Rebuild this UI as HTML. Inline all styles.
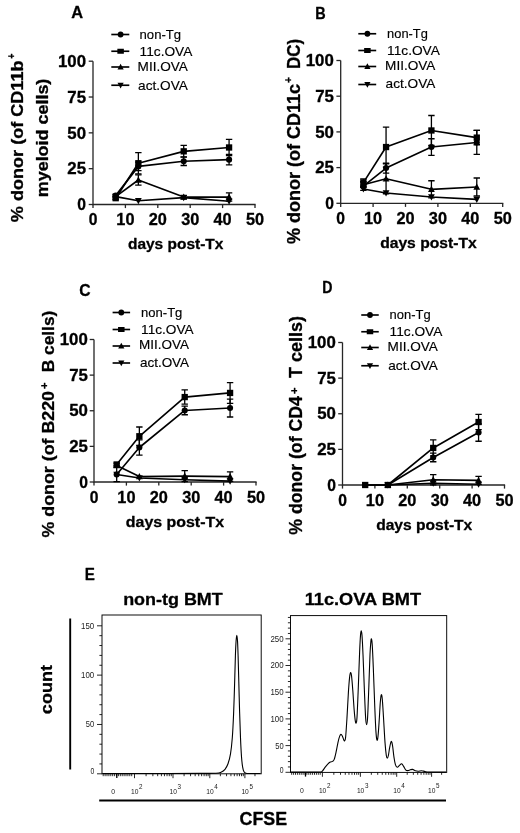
<!DOCTYPE html>
<html><head><meta charset="utf-8"><title>Figure</title>
<style>
html,body{margin:0;padding:0;background:#fff;}
body{width:520px;height:833px;overflow:hidden;}
svg{display:block;font-family:"Liberation Sans",sans-serif;filter:blur(0.3px);}
</style></head><body>
<svg width="520" height="833" viewBox="0 0 520 833">
<rect width="520" height="833" fill="#fff"/>
<g stroke="#262626" stroke-width="1.3" fill="none">
<path d="M93 61.2V204.5H255.6"/>
<path d="M88.7 204.5H93"/>
<path d="M88.7 168.68H93"/>
<path d="M88.7 132.85H93"/>
<path d="M88.7 97.02H93"/>
<path d="M88.7 61.2H93"/>
<path d="M93 204.5V208.1"/>
<path d="M125.4 204.5V208.1"/>
<path d="M157.8 204.5V208.1"/>
<path d="M190.2 204.5V208.1"/>
<path d="M222.6 204.5V208.1"/>
<path d="M255 204.5V208.1"/>
</g>
<text transform="translate(57.95,66.9) scale(1.0650,1)" font-size="15.8" font-weight="bold" fill="#000" stroke="#000" stroke-width="0.3" stroke-linejoin="round">100</text>
<text transform="translate(67.35,102.72) scale(1.0663,1)" font-size="15.8" font-weight="bold" fill="#000" stroke="#000" stroke-width="0.3" stroke-linejoin="round">75</text>
<text transform="translate(67.35,138.55) scale(1.0663,1)" font-size="15.8" font-weight="bold" fill="#000" stroke="#000" stroke-width="0.3" stroke-linejoin="round">50</text>
<text transform="translate(67.35,174.38) scale(1.0663,1)" font-size="15.8" font-weight="bold" fill="#000" stroke="#000" stroke-width="0.3" stroke-linejoin="round">25</text>
<text transform="translate(77.35,210.2) scale(0.9921,1)" font-size="15.8" font-weight="bold" fill="#000" stroke="#000" stroke-width="0.3" stroke-linejoin="round">0</text>
<text transform="translate(88.65,225.1) scale(0.9921,1)" font-size="15.8" font-weight="bold" fill="#000" stroke="#000" stroke-width="0.3" stroke-linejoin="round">0</text>
<text transform="translate(116.35,225.1) scale(1.0320,1)" font-size="15.8" font-weight="bold" fill="#000" stroke="#000" stroke-width="0.3" stroke-linejoin="round">10</text>
<text transform="translate(148.75,225.1) scale(1.0320,1)" font-size="15.8" font-weight="bold" fill="#000" stroke="#000" stroke-width="0.3" stroke-linejoin="round">20</text>
<text transform="translate(181.15,225.1) scale(1.0320,1)" font-size="15.8" font-weight="bold" fill="#000" stroke="#000" stroke-width="0.3" stroke-linejoin="round">30</text>
<text transform="translate(213.55,225.1) scale(1.0320,1)" font-size="15.8" font-weight="bold" fill="#000" stroke="#000" stroke-width="0.3" stroke-linejoin="round">40</text>
<text transform="translate(245.95,225.1) scale(1.0320,1)" font-size="15.8" font-weight="bold" fill="#000" stroke="#000" stroke-width="0.3" stroke-linejoin="round">50</text>
<text transform="translate(127.95,249.3) scale(1.0116,1)" font-size="15.3" font-weight="bold" fill="#000" stroke="#000" stroke-width="0.3" stroke-linejoin="round">days post-Tx</text>
<text transform="translate(71.15,17.5) scale(0.9641,1)" font-size="17" font-weight="bold" fill="#000" stroke="#000" stroke-width="0.3" stroke-linejoin="round">A</text>
<text xml:space="preserve" stroke="#000" stroke-width="0.3" stroke-linejoin="round" transform="translate(23.1,222.15) rotate(-90) scale(1.1595,1)" font-size="15.6" font-weight="bold">% donor (of CD11b</text>
<text xml:space="preserve" stroke="#000" stroke-width="0.3" stroke-linejoin="round" transform="translate(14.8,58.75) rotate(-90) scale(0.8889,1)" font-size="10" font-weight="bold">+</text>
<text xml:space="preserve" stroke="#000" stroke-width="0.3" stroke-linejoin="round" transform="translate(48.4,197.25) rotate(-90) scale(1.1503,1)" font-size="15.6" font-weight="bold">myeloid cells)</text>
<path d="M111.3 34.5H129.3" stroke="#000" stroke-width="1.65"/>
<circle cx="120.6" cy="34.5" r="2.9"/>
<text transform="translate(139.57,38.75) scale(1.0415,1)" font-size="12.6" font-weight="normal" fill="#000" stroke="#000" stroke-width="0.15" stroke-linejoin="round">non-Tg</text>
<path d="M111.3 51.25H129.3" stroke="#000" stroke-width="1.65"/>
<rect x="117.35" y="48.75" width="6.5" height="5"/>
<text transform="translate(139.57,55.5) scale(1.0881,1)" font-size="12.6" font-weight="normal" fill="#000" stroke="#000" stroke-width="0.15" stroke-linejoin="round">11c.OVA</text>
<path d="M111.3 67H129.3" stroke="#000" stroke-width="1.65"/>
<path d="M120.6 63.74L123.7 69.48L117.5 69.48Z"/>
<text transform="translate(137.57,71.25) scale(1.0786,1)" font-size="12.6" font-weight="normal" fill="#000" stroke="#000" stroke-width="0.15" stroke-linejoin="round">MII.OVA</text>
<path d="M111.3 85.25H129.3" stroke="#000" stroke-width="1.65"/>
<path d="M120.6 88.5L123.7 82.77L117.5 82.77Z"/>
<text transform="translate(138.07,89.5) scale(1.0839,1)" font-size="12.6" font-weight="normal" fill="#000" stroke="#000" stroke-width="0.15" stroke-linejoin="round">act.OVA</text>
<path d="M115.68 196.62L138.36 200.77L183.72 197.62L229.08 201.2" fill="none" stroke="#000" stroke-width="1.65" stroke-linejoin="round"/>
<path d="M115.68 200.19L119.08 193.9L112.28 193.9Z"/>
<path d="M138.36 204.34L141.76 198.05L134.96 198.05Z"/>
<path d="M183.72 201.19L187.12 194.9L180.32 194.9Z"/>
<path d="M229.08 204.77L232.48 198.48L225.68 198.48Z"/>
<path d="M115.68 196.62L138.36 180L183.72 197.05L229.08 197.05" fill="none" stroke="#000" stroke-width="1.65" stroke-linejoin="round"/>
<path d="M115.68 193.05L119.08 199.34L112.28 199.34Z"/>
<path d="M138.36 174.84V185.15M135.16 174.84H141.56M135.16 185.15H141.56" fill="none" stroke="#000" stroke-width="1.3"/>
<path d="M138.36 176.43L141.76 182.72L134.96 182.72Z"/>
<path d="M183.72 195.33V198.77M180.52 195.33H186.92M180.52 198.77H186.92" fill="none" stroke="#000" stroke-width="1.3"/>
<path d="M183.72 193.48L187.12 199.77L180.32 199.77Z"/>
<path d="M229.08 192.89V201.2M225.88 192.89H232.28M225.88 201.2H232.28" fill="none" stroke="#000" stroke-width="1.3"/>
<path d="M229.08 193.48L232.48 199.77L225.68 199.77Z"/>
<path d="M115.68 195.62L138.36 166.38L183.72 161.22L229.08 159.65" fill="none" stroke="#000" stroke-width="1.65" stroke-linejoin="round"/>
<path d="M115.68 194.18V197.05M112.48 194.18H118.88M112.48 197.05H118.88" fill="none" stroke="#000" stroke-width="1.3"/>
<circle cx="115.68" cy="195.62" r="3.05"/>
<path d="M138.36 162.08V170.68M135.16 162.08H141.56M135.16 170.68H141.56" fill="none" stroke="#000" stroke-width="1.3"/>
<circle cx="138.36" cy="166.38" r="3.05"/>
<path d="M183.72 156.92V165.52M180.52 156.92H186.92M180.52 165.52H186.92" fill="none" stroke="#000" stroke-width="1.3"/>
<circle cx="183.72" cy="161.22" r="3.05"/>
<path d="M229.08 154.34V164.95M225.88 154.34H232.28M225.88 164.95H232.28" fill="none" stroke="#000" stroke-width="1.3"/>
<circle cx="229.08" cy="159.65" r="3.05"/>
<path d="M115.68 198.19L138.36 163.23L183.72 151.34L229.08 147.47" fill="none" stroke="#000" stroke-width="1.65" stroke-linejoin="round"/>
<path d="M115.68 196.76V199.63M112.48 196.76H118.88M112.48 199.63H118.88" fill="none" stroke="#000" stroke-width="1.3"/>
<rect x="112.53" y="195.04" width="6.3" height="6.3"/>
<path d="M138.36 152.63V173.83M135.16 152.63H141.56M135.16 173.83H141.56" fill="none" stroke="#000" stroke-width="1.3"/>
<rect x="135.21" y="160.08" width="6.3" height="6.3"/>
<path d="M183.72 145.46V157.21M180.52 145.46H186.92M180.52 157.21H186.92" fill="none" stroke="#000" stroke-width="1.3"/>
<rect x="180.57" y="148.19" width="6.3" height="6.3"/>
<path d="M229.08 139.44V155.49M225.88 139.44H232.28M225.88 155.49H232.28" fill="none" stroke="#000" stroke-width="1.3"/>
<rect x="225.93" y="144.32" width="6.3" height="6.3"/>
<g stroke="#262626" stroke-width="1.3" fill="none">
<path d="M340.7 60.5V203.3H503.3"/>
<path d="M336.4 203.3H340.7"/>
<path d="M336.4 167.6H340.7"/>
<path d="M336.4 131.9H340.7"/>
<path d="M336.4 96.2H340.7"/>
<path d="M336.4 60.5H340.7"/>
<path d="M340.7 203.3V206.9"/>
<path d="M373.1 203.3V206.9"/>
<path d="M405.5 203.3V206.9"/>
<path d="M437.9 203.3V206.9"/>
<path d="M470.3 203.3V206.9"/>
<path d="M502.7 203.3V206.9"/>
</g>
<text transform="translate(305.75,66.2) scale(1.0650,1)" font-size="15.8" font-weight="bold" fill="#000" stroke="#000" stroke-width="0.3" stroke-linejoin="round">100</text>
<text transform="translate(315.15,101.9) scale(1.0663,1)" font-size="15.8" font-weight="bold" fill="#000" stroke="#000" stroke-width="0.3" stroke-linejoin="round">75</text>
<text transform="translate(315.15,137.6) scale(1.0663,1)" font-size="15.8" font-weight="bold" fill="#000" stroke="#000" stroke-width="0.3" stroke-linejoin="round">50</text>
<text transform="translate(315.15,173.3) scale(1.0663,1)" font-size="15.8" font-weight="bold" fill="#000" stroke="#000" stroke-width="0.3" stroke-linejoin="round">25</text>
<text transform="translate(325.15,209) scale(0.9921,1)" font-size="15.8" font-weight="bold" fill="#000" stroke="#000" stroke-width="0.3" stroke-linejoin="round">0</text>
<text transform="translate(336.35,223.9) scale(0.9921,1)" font-size="15.8" font-weight="bold" fill="#000" stroke="#000" stroke-width="0.3" stroke-linejoin="round">0</text>
<text transform="translate(364.05,223.9) scale(1.0320,1)" font-size="15.8" font-weight="bold" fill="#000" stroke="#000" stroke-width="0.3" stroke-linejoin="round">10</text>
<text transform="translate(396.45,223.9) scale(1.0320,1)" font-size="15.8" font-weight="bold" fill="#000" stroke="#000" stroke-width="0.3" stroke-linejoin="round">20</text>
<text transform="translate(428.85,223.9) scale(1.0320,1)" font-size="15.8" font-weight="bold" fill="#000" stroke="#000" stroke-width="0.3" stroke-linejoin="round">30</text>
<text transform="translate(461.25,223.9) scale(1.0320,1)" font-size="15.8" font-weight="bold" fill="#000" stroke="#000" stroke-width="0.3" stroke-linejoin="round">40</text>
<text transform="translate(493.65,223.9) scale(1.0320,1)" font-size="15.8" font-weight="bold" fill="#000" stroke="#000" stroke-width="0.3" stroke-linejoin="round">50</text>
<text transform="translate(380.15,248.2) scale(1.0244,1)" font-size="15.3" font-weight="bold" fill="#000" stroke="#000" stroke-width="0.3" stroke-linejoin="round">days post-Tx</text>
<text transform="translate(315.25,18.5) scale(0.8497,1)" font-size="17" font-weight="bold" fill="#000" stroke="#000" stroke-width="0.3" stroke-linejoin="round">B</text>
<text xml:space="preserve" stroke="#000" stroke-width="0.3" stroke-linejoin="round" transform="translate(300.3,243.95) rotate(-90) scale(1.0284,1)" font-size="17.5" font-weight="bold">% donor (of CD11c</text>
<text xml:space="preserve" stroke="#000" stroke-width="0.3" stroke-linejoin="round" transform="translate(291.5,83.05) rotate(-90) scale(0.9768,1)" font-size="10.5" font-weight="bold">+</text>
<text xml:space="preserve" stroke="#000" stroke-width="0.3" stroke-linejoin="round" transform="translate(300.3,69.05) rotate(-90) scale(0.9690,1)" font-size="17.5" font-weight="bold">DC)</text>
<path d="M358.3 33.75H376.2" stroke="#000" stroke-width="1.65"/>
<circle cx="367.4" cy="33.75" r="2.9"/>
<text transform="translate(387.07,38) scale(1.0227,1)" font-size="12.6" font-weight="normal" fill="#000" stroke="#000" stroke-width="0.15" stroke-linejoin="round">non-Tg</text>
<path d="M358.3 50.5H376.2" stroke="#000" stroke-width="1.65"/>
<rect x="364.15" y="48" width="6.5" height="5"/>
<text transform="translate(387.07,54.5) scale(1.0881,1)" font-size="12.6" font-weight="normal" fill="#000" stroke="#000" stroke-width="0.15" stroke-linejoin="round">11c.OVA</text>
<path d="M358.3 66.5H376.2" stroke="#000" stroke-width="1.65"/>
<path d="M367.4 63.24L370.5 68.98L364.3 68.98Z"/>
<text transform="translate(385.07,70) scale(1.0786,1)" font-size="12.6" font-weight="normal" fill="#000" stroke="#000" stroke-width="0.15" stroke-linejoin="round">MII.OVA</text>
<path d="M358.3 84.5H376.2" stroke="#000" stroke-width="1.65"/>
<path d="M367.4 87.75L370.5 82.02L364.3 82.02Z"/>
<text transform="translate(385.57,88.25) scale(1.0839,1)" font-size="12.6" font-weight="normal" fill="#000" stroke="#000" stroke-width="0.15" stroke-linejoin="round">act.OVA</text>
<path d="M363.38 189.02L386.06 193.02L431.42 197.02L476.78 199.44" fill="none" stroke="#000" stroke-width="1.65" stroke-linejoin="round"/>
<path d="M363.38 192.59L366.78 186.3L359.98 186.3Z"/>
<path d="M386.06 196.59L389.46 190.3L382.66 190.3Z"/>
<path d="M431.42 200.59L434.82 194.3L428.02 194.3Z"/>
<path d="M476.78 203.01L480.18 196.72L473.38 196.72Z"/>
<path d="M363.38 184.74L386.06 178.74L431.42 189.31L476.78 187.02" fill="none" stroke="#000" stroke-width="1.65" stroke-linejoin="round"/>
<path d="M363.38 181.88V187.59M360.18 181.88H366.58M360.18 187.59H366.58" fill="none" stroke="#000" stroke-width="1.3"/>
<path d="M363.38 181.17L366.78 187.46L359.98 187.46Z"/>
<path d="M386.06 163.74V193.73M382.86 163.74H389.26M382.86 193.73H389.26" fill="none" stroke="#000" stroke-width="1.3"/>
<path d="M386.06 175.17L389.46 181.46L382.66 181.46Z"/>
<path d="M431.42 180.74V197.87M428.22 180.74H434.62M428.22 197.87H434.62" fill="none" stroke="#000" stroke-width="1.3"/>
<path d="M431.42 185.74L434.82 192.03L428.02 192.03Z"/>
<path d="M476.78 178.02V196.02M473.58 178.02H479.98M473.58 196.02H479.98" fill="none" stroke="#000" stroke-width="1.3"/>
<path d="M476.78 183.45L480.18 189.74L473.38 189.74Z"/>
<path d="M363.38 186.16L386.06 168.03L431.42 147.04L476.78 142.47" fill="none" stroke="#000" stroke-width="1.65" stroke-linejoin="round"/>
<path d="M363.38 181.88V190.45M360.18 181.88H366.58M360.18 190.45H366.58" fill="none" stroke="#000" stroke-width="1.3"/>
<circle cx="363.38" cy="186.16" r="3.05"/>
<path d="M386.06 163.03V173.03M382.86 163.03H389.26M382.86 173.03H389.26" fill="none" stroke="#000" stroke-width="1.3"/>
<circle cx="386.06" cy="168.03" r="3.05"/>
<path d="M431.42 138.75V155.32M428.22 138.75H434.62M428.22 155.32H434.62" fill="none" stroke="#000" stroke-width="1.3"/>
<circle cx="431.42" cy="147.04" r="3.05"/>
<path d="M476.78 130.47V154.46M473.58 130.47H479.98M473.58 154.46H479.98" fill="none" stroke="#000" stroke-width="1.3"/>
<circle cx="476.78" cy="142.47" r="3.05"/>
<path d="M363.38 182.59L386.06 147.04L431.42 130.47L476.78 137.61" fill="none" stroke="#000" stroke-width="1.65" stroke-linejoin="round"/>
<path d="M363.38 179.02V186.16M360.18 179.02H366.58M360.18 186.16H366.58" fill="none" stroke="#000" stroke-width="1.3"/>
<rect x="360.23" y="179.44" width="6.3" height="6.3"/>
<path d="M386.06 127.04V167.03M382.86 127.04H389.26M382.86 167.03H389.26" fill="none" stroke="#000" stroke-width="1.3"/>
<rect x="382.91" y="143.89" width="6.3" height="6.3"/>
<path d="M431.42 115.48V145.47M428.22 115.48H434.62M428.22 145.47H434.62" fill="none" stroke="#000" stroke-width="1.3"/>
<rect x="428.27" y="127.32" width="6.3" height="6.3"/>
<path d="M476.78 130.47V144.75M473.58 130.47H479.98M473.58 144.75H479.98" fill="none" stroke="#000" stroke-width="1.3"/>
<rect x="473.63" y="134.46" width="6.3" height="6.3"/>
<g stroke="#262626" stroke-width="1.3" fill="none">
<path d="M94 339.5V482H256.6"/>
<path d="M89.7 482H94"/>
<path d="M89.7 446.38H94"/>
<path d="M89.7 410.75H94"/>
<path d="M89.7 375.12H94"/>
<path d="M89.7 339.5H94"/>
<path d="M94 482V485.6"/>
<path d="M126.4 482V485.6"/>
<path d="M158.8 482V485.6"/>
<path d="M191.2 482V485.6"/>
<path d="M223.6 482V485.6"/>
<path d="M256 482V485.6"/>
</g>
<text transform="translate(59.75,345.2) scale(1.0650,1)" font-size="15.8" font-weight="bold" fill="#000" stroke="#000" stroke-width="0.3" stroke-linejoin="round">100</text>
<text transform="translate(69.15,380.82) scale(1.0663,1)" font-size="15.8" font-weight="bold" fill="#000" stroke="#000" stroke-width="0.3" stroke-linejoin="round">75</text>
<text transform="translate(69.15,416.45) scale(1.0663,1)" font-size="15.8" font-weight="bold" fill="#000" stroke="#000" stroke-width="0.3" stroke-linejoin="round">50</text>
<text transform="translate(69.15,452.07) scale(1.0663,1)" font-size="15.8" font-weight="bold" fill="#000" stroke="#000" stroke-width="0.3" stroke-linejoin="round">25</text>
<text transform="translate(79.15,487.7) scale(0.9921,1)" font-size="15.8" font-weight="bold" fill="#000" stroke="#000" stroke-width="0.3" stroke-linejoin="round">0</text>
<text transform="translate(89.65,502.6) scale(0.9921,1)" font-size="15.8" font-weight="bold" fill="#000" stroke="#000" stroke-width="0.3" stroke-linejoin="round">0</text>
<text transform="translate(117.35,502.6) scale(1.0320,1)" font-size="15.8" font-weight="bold" fill="#000" stroke="#000" stroke-width="0.3" stroke-linejoin="round">10</text>
<text transform="translate(149.75,502.6) scale(1.0320,1)" font-size="15.8" font-weight="bold" fill="#000" stroke="#000" stroke-width="0.3" stroke-linejoin="round">20</text>
<text transform="translate(182.15,502.6) scale(1.0320,1)" font-size="15.8" font-weight="bold" fill="#000" stroke="#000" stroke-width="0.3" stroke-linejoin="round">30</text>
<text transform="translate(214.55,502.6) scale(1.0320,1)" font-size="15.8" font-weight="bold" fill="#000" stroke="#000" stroke-width="0.3" stroke-linejoin="round">40</text>
<text transform="translate(246.95,502.6) scale(1.0320,1)" font-size="15.8" font-weight="bold" fill="#000" stroke="#000" stroke-width="0.3" stroke-linejoin="round">50</text>
<text transform="translate(125.85,526.6) scale(1.0413,1)" font-size="15.3" font-weight="bold" fill="#000" stroke="#000" stroke-width="0.3" stroke-linejoin="round">days post-Tx</text>
<text transform="translate(79.25,295.6) scale(0.9232,1)" font-size="17" font-weight="bold" fill="#000" stroke="#000" stroke-width="0.3" stroke-linejoin="round">C</text>
<text xml:space="preserve" stroke="#000" stroke-width="0.3" stroke-linejoin="round" transform="translate(54.3,537.45) rotate(-90) scale(1.0539,1)" font-size="16.9" font-weight="bold">% donor (of B220</text>
<text xml:space="preserve" stroke="#000" stroke-width="0.3" stroke-linejoin="round" transform="translate(48.1,389.05) rotate(-90) scale(1.0745,1)" font-size="10.5" font-weight="bold">+</text>
<text xml:space="preserve" stroke="#000" stroke-width="0.3" stroke-linejoin="round" transform="translate(54.3,372.15) rotate(-90) scale(1.0220,1)" font-size="16.9" font-weight="bold">B cells)</text>
<path d="M112.6 312.5H130.1" stroke="#000" stroke-width="1.65"/>
<circle cx="121.3" cy="312.5" r="2.9"/>
<text transform="translate(141.07,316.8) scale(1.0353,1)" font-size="12.6" font-weight="normal" fill="#000" stroke="#000" stroke-width="0.15" stroke-linejoin="round">non-Tg</text>
<path d="M112.6 329.5H130.1" stroke="#000" stroke-width="1.65"/>
<rect x="118.05" y="327" width="6.5" height="5"/>
<text transform="translate(141.07,333.5) scale(1.0829,1)" font-size="12.6" font-weight="normal" fill="#000" stroke="#000" stroke-width="0.15" stroke-linejoin="round">11c.OVA</text>
<path d="M112.6 346H130.1" stroke="#000" stroke-width="1.65"/>
<path d="M121.3 342.75L124.4 348.48L118.2 348.48Z"/>
<text transform="translate(139.07,349.3) scale(1.0732,1)" font-size="12.6" font-weight="normal" fill="#000" stroke="#000" stroke-width="0.15" stroke-linejoin="round">MII.OVA</text>
<path d="M112.6 363H130.1" stroke="#000" stroke-width="1.65"/>
<path d="M121.3 366.25L124.4 360.52L118.2 360.52Z"/>
<text transform="translate(139.88,367.3) scale(1.0720,1)" font-size="12.6" font-weight="normal" fill="#000" stroke="#000" stroke-width="0.15" stroke-linejoin="round">act.OVA</text>
<path d="M116.68 474.45L139.36 478.01L184.72 479.72L230.08 481.14" fill="none" stroke="#000" stroke-width="1.65" stroke-linejoin="round"/>
<path d="M116.68 478.02L120.08 471.73L113.28 471.73Z"/>
<path d="M139.36 481.58L142.76 475.29L135.96 475.29Z"/>
<path d="M184.72 483.29L188.12 477L181.32 477Z"/>
<path d="M230.08 484.71L233.48 478.42L226.68 478.42Z"/>
<path d="M116.68 465.61L139.36 476.58L184.72 476.16L230.08 476.58" fill="none" stroke="#000" stroke-width="1.65" stroke-linejoin="round"/>
<path d="M116.68 462.04L120.08 468.33L113.28 468.33Z"/>
<path d="M139.36 473.01L142.76 479.31L135.96 479.31Z"/>
<path d="M184.72 470.6V481.71M181.52 470.6H187.92M181.52 481.71H187.92" fill="none" stroke="#000" stroke-width="1.3"/>
<path d="M184.72 472.59L188.12 478.88L181.32 478.88Z"/>
<path d="M230.08 471.88V481.29M226.88 471.88H233.28M226.88 481.29H233.28" fill="none" stroke="#000" stroke-width="1.3"/>
<path d="M230.08 473.01L233.48 479.31L226.68 479.31Z"/>
<path d="M116.68 474.45L139.36 447.51L184.72 410.46L230.08 408.04" fill="none" stroke="#000" stroke-width="1.65" stroke-linejoin="round"/>
<path d="M116.68 467.32V481.57M113.48 467.32H119.88M113.48 481.57H119.88" fill="none" stroke="#000" stroke-width="1.3"/>
<circle cx="116.68" cy="474.45" r="3.05"/>
<path d="M139.36 439.96V455.07M136.16 439.96H142.56M136.16 455.07H142.56" fill="none" stroke="#000" stroke-width="1.3"/>
<circle cx="139.36" cy="447.51" r="3.05"/>
<path d="M184.72 406.19V414.74M181.52 406.19H187.92M181.52 414.74H187.92" fill="none" stroke="#000" stroke-width="1.3"/>
<circle cx="184.72" cy="410.46" r="3.05"/>
<path d="M230.08 399.06V417.02M226.88 399.06H233.28M226.88 417.02H233.28" fill="none" stroke="#000" stroke-width="1.3"/>
<circle cx="230.08" cy="408.04" r="3.05"/>
<path d="M116.68 464.47L139.36 436.26L184.72 397.07L230.08 392.94" fill="none" stroke="#000" stroke-width="1.65" stroke-linejoin="round"/>
<path d="M116.68 463.05V465.9M113.48 463.05H119.88M113.48 465.9H119.88" fill="none" stroke="#000" stroke-width="1.3"/>
<rect x="113.53" y="461.32" width="6.3" height="6.3"/>
<path d="M139.36 427V445.52M136.16 427H142.56M136.16 445.52H142.56" fill="none" stroke="#000" stroke-width="1.3"/>
<rect x="136.21" y="433.11" width="6.3" height="6.3"/>
<path d="M184.72 389.94V404.19M181.52 389.94H187.92M181.52 404.19H187.92" fill="none" stroke="#000" stroke-width="1.3"/>
<rect x="181.57" y="393.92" width="6.3" height="6.3"/>
<path d="M230.08 382.53V403.34M226.88 382.53H233.28M226.88 403.34H233.28" fill="none" stroke="#000" stroke-width="1.3"/>
<rect x="226.93" y="389.79" width="6.3" height="6.3"/>
<g stroke="#262626" stroke-width="1.3" fill="none">
<path d="M342.5 342.5V485H505.1"/>
<path d="M338.2 485H342.5"/>
<path d="M338.2 449.38H342.5"/>
<path d="M338.2 413.75H342.5"/>
<path d="M338.2 378.12H342.5"/>
<path d="M338.2 342.5H342.5"/>
<path d="M342.5 485V488.6"/>
<path d="M374.9 485V488.6"/>
<path d="M407.3 485V488.6"/>
<path d="M439.7 485V488.6"/>
<path d="M472.1 485V488.6"/>
<path d="M504.5 485V488.6"/>
</g>
<text transform="translate(307.75,348.2) scale(1.0650,1)" font-size="15.8" font-weight="bold" fill="#000" stroke="#000" stroke-width="0.3" stroke-linejoin="round">100</text>
<text transform="translate(317.15,383.82) scale(1.0663,1)" font-size="15.8" font-weight="bold" fill="#000" stroke="#000" stroke-width="0.3" stroke-linejoin="round">75</text>
<text transform="translate(317.15,419.45) scale(1.0663,1)" font-size="15.8" font-weight="bold" fill="#000" stroke="#000" stroke-width="0.3" stroke-linejoin="round">50</text>
<text transform="translate(317.15,455.07) scale(1.0663,1)" font-size="15.8" font-weight="bold" fill="#000" stroke="#000" stroke-width="0.3" stroke-linejoin="round">25</text>
<text transform="translate(327.15,490.7) scale(0.9921,1)" font-size="15.8" font-weight="bold" fill="#000" stroke="#000" stroke-width="0.3" stroke-linejoin="round">0</text>
<text transform="translate(338.15,505.6) scale(0.9921,1)" font-size="15.8" font-weight="bold" fill="#000" stroke="#000" stroke-width="0.3" stroke-linejoin="round">0</text>
<text transform="translate(365.85,505.6) scale(1.0320,1)" font-size="15.8" font-weight="bold" fill="#000" stroke="#000" stroke-width="0.3" stroke-linejoin="round">10</text>
<text transform="translate(398.25,505.6) scale(1.0320,1)" font-size="15.8" font-weight="bold" fill="#000" stroke="#000" stroke-width="0.3" stroke-linejoin="round">20</text>
<text transform="translate(430.65,505.6) scale(1.0320,1)" font-size="15.8" font-weight="bold" fill="#000" stroke="#000" stroke-width="0.3" stroke-linejoin="round">30</text>
<text transform="translate(463.05,505.6) scale(1.0320,1)" font-size="15.8" font-weight="bold" fill="#000" stroke="#000" stroke-width="0.3" stroke-linejoin="round">40</text>
<text transform="translate(495.45,505.6) scale(1.0320,1)" font-size="15.8" font-weight="bold" fill="#000" stroke="#000" stroke-width="0.3" stroke-linejoin="round">50</text>
<text transform="translate(376.15,529.5) scale(1.0191,1)" font-size="15.3" font-weight="bold" fill="#000" stroke="#000" stroke-width="0.3" stroke-linejoin="round">days post-Tx</text>
<text transform="translate(322.35,293.2) scale(0.8333,1)" font-size="17" font-weight="bold" fill="#000" stroke="#000" stroke-width="0.3" stroke-linejoin="round">D</text>
<text xml:space="preserve" stroke="#000" stroke-width="0.3" stroke-linejoin="round" transform="translate(302.3,534.75) rotate(-90) scale(1.0123,1)" font-size="17.5" font-weight="bold">% donor (of CD4</text>
<text xml:space="preserve" stroke="#000" stroke-width="0.3" stroke-linejoin="round" transform="translate(297.7,394.05) rotate(-90) scale(1.0745,1)" font-size="10.5" font-weight="bold">+</text>
<text xml:space="preserve" stroke="#000" stroke-width="0.3" stroke-linejoin="round" transform="translate(302.3,377.95) rotate(-90) scale(1.0301,1)" font-size="17.5" font-weight="bold">T cells)</text>
<path d="M361.25 315H378.75" stroke="#000" stroke-width="1.65"/>
<circle cx="370" cy="315" r="2.9"/>
<text transform="translate(389.57,319.25) scale(1.0290,1)" font-size="12.6" font-weight="normal" fill="#000" stroke="#000" stroke-width="0.15" stroke-linejoin="round">non-Tg</text>
<path d="M361.25 331.75H378.75" stroke="#000" stroke-width="1.65"/>
<rect x="366.75" y="329.25" width="6.5" height="5"/>
<text transform="translate(389.57,335.5) scale(1.0881,1)" font-size="12.6" font-weight="normal" fill="#000" stroke="#000" stroke-width="0.15" stroke-linejoin="round">11c.OVA</text>
<path d="M361.25 347.5H378.75" stroke="#000" stroke-width="1.65"/>
<path d="M370 344.25L373.1 349.98L366.9 349.98Z"/>
<text transform="translate(387.57,351.25) scale(1.0786,1)" font-size="12.6" font-weight="normal" fill="#000" stroke="#000" stroke-width="0.15" stroke-linejoin="round">MII.OVA</text>
<path d="M361.25 365.75H378.75" stroke="#000" stroke-width="1.65"/>
<path d="M370 369L373.1 363.27L366.9 363.27Z"/>
<text transform="translate(388.32,369.5) scale(1.0785,1)" font-size="12.6" font-weight="normal" fill="#000" stroke="#000" stroke-width="0.15" stroke-linejoin="round">act.OVA</text>
<path d="M387.86 485L433.22 483.29L478.58 484.29" fill="none" stroke="#000" stroke-width="1.65" stroke-linejoin="round"/>
<path d="M387.86 488.57L391.26 482.28L384.46 482.28Z"/>
<path d="M433.22 486.86L436.62 480.57L429.82 480.57Z"/>
<path d="M478.58 487.86L481.98 481.57L475.18 481.57Z"/>
<path d="M387.86 485L433.22 479.73L478.58 480.44" fill="none" stroke="#000" stroke-width="1.65" stroke-linejoin="round"/>
<path d="M387.86 481.43L391.26 487.72L384.46 487.72Z"/>
<path d="M433.22 474.6V484.86M430.02 474.6H436.42M430.02 484.86H436.42" fill="none" stroke="#000" stroke-width="1.3"/>
<path d="M433.22 476.16L436.62 482.45L429.82 482.45Z"/>
<path d="M478.58 476.45V484.43M475.38 476.45H481.78M475.38 484.43H481.78" fill="none" stroke="#000" stroke-width="1.3"/>
<path d="M478.58 476.87L481.98 483.16L475.18 483.16Z"/>
<path d="M365.18 485L387.86 485L433.22 457.5L478.58 432.56" fill="none" stroke="#000" stroke-width="1.65" stroke-linejoin="round"/>
<circle cx="365.18" cy="485" r="3.05"/>
<circle cx="387.86" cy="485" r="3.05"/>
<path d="M433.22 453.22V461.77M430.02 453.22H436.42M430.02 461.77H436.42" fill="none" stroke="#000" stroke-width="1.3"/>
<circle cx="433.22" cy="457.5" r="3.05"/>
<path d="M478.58 423.87V441.25M475.38 423.87H481.78M475.38 441.25H481.78" fill="none" stroke="#000" stroke-width="1.3"/>
<circle cx="478.58" cy="432.56" r="3.05"/>
<path d="M365.18 485L387.86 485L433.22 447.95L478.58 422.01" fill="none" stroke="#000" stroke-width="1.65" stroke-linejoin="round"/>
<rect x="362.03" y="481.85" width="6.3" height="6.3"/>
<rect x="384.71" y="481.85" width="6.3" height="6.3"/>
<path d="M433.22 439.97V455.93M430.02 439.97H436.42M430.02 455.93H436.42" fill="none" stroke="#000" stroke-width="1.3"/>
<rect x="430.07" y="444.8" width="6.3" height="6.3"/>
<path d="M478.58 414.46V429.57M475.38 414.46H481.78M475.38 429.57H481.78" fill="none" stroke="#000" stroke-width="1.3"/>
<rect x="475.43" y="418.87" width="6.3" height="6.3"/>
<text transform="translate(84.75,580.2) scale(0.8934,1)" font-size="17" font-weight="bold" fill="#000" stroke="#000" stroke-width="0.3" stroke-linejoin="round">E</text>
<text transform="translate(123.15,604.8) scale(1.0435,1)" font-size="17.2" font-weight="bold" fill="#000" stroke="#000" stroke-width="0.3" stroke-linejoin="round">non-tg BMT</text>
<text transform="translate(304.65,604.8) scale(1.0600,1)" font-size="17.2" font-weight="bold" fill="#000" stroke="#000" stroke-width="0.3" stroke-linejoin="round">11c.OVA BMT</text>
<text transform="translate(239.55,824.6) scale(1.0148,1)" font-size="17.6" font-weight="bold" fill="#000" stroke="#000" stroke-width="0.3" stroke-linejoin="round">CFSE</text>
<text xml:space="preserve" stroke="#000" stroke-width="0.3" stroke-linejoin="round" transform="translate(52.4,714.15) rotate(-90) scale(1.0516,1)" font-size="17.2" font-weight="bold">count</text>
<path d="M70.2 618.5V769.5" stroke="#000" stroke-width="1.9"/>
<path d="M99.2 800.5H446" stroke="#000" stroke-width="1.9"/>
<rect x="102" y="615" width="159.2" height="158.8" fill="none" stroke="#000" stroke-width="0.95"/>
<g stroke="#000" stroke-width="0.85">
<path d="M97 773.8H102"/>
<path d="M99.4 763.93H102"/>
<path d="M99.4 754.07H102"/>
<path d="M99.4 744.2H102"/>
<path d="M99.4 734.33H102"/>
<path d="M97 724.47H102"/>
<path d="M99.4 714.6H102"/>
<path d="M99.4 704.73H102"/>
<path d="M99.4 694.87H102"/>
<path d="M99.4 685H102"/>
<path d="M97 675.13H102"/>
<path d="M99.4 665.27H102"/>
<path d="M99.4 655.4H102"/>
<path d="M99.4 645.53H102"/>
<path d="M99.4 635.67H102"/>
<path d="M97 625.8H102"/>
<path d="M134.5 773.8V778.2"/>
<path d="M173 773.8V778.2"/>
<path d="M209.8 773.8V778.2"/>
<path d="M244.9 773.8V778.2"/>
<path d="M146.09 773.8V776.2"/>
<path d="M152.87 773.8V776.2"/>
<path d="M157.68 773.8V776.2"/>
<path d="M161.41 773.8V776.2"/>
<path d="M164.46 773.8V776.2"/>
<path d="M167.04 773.8V776.2"/>
<path d="M169.27 773.8V776.2"/>
<path d="M171.24 773.8V776.2"/>
<path d="M184.08 773.8V776.2"/>
<path d="M190.56 773.8V776.2"/>
<path d="M195.16 773.8V776.2"/>
<path d="M198.72 773.8V776.2"/>
<path d="M201.64 773.8V776.2"/>
<path d="M204.1 773.8V776.2"/>
<path d="M206.23 773.8V776.2"/>
<path d="M208.12 773.8V776.2"/>
<path d="M220.37 773.8V776.2"/>
<path d="M226.55 773.8V776.2"/>
<path d="M230.93 773.8V776.2"/>
<path d="M234.33 773.8V776.2"/>
<path d="M237.11 773.8V776.2"/>
<path d="M239.46 773.8V776.2"/>
<path d="M241.5 773.8V776.2"/>
<path d="M243.29 773.8V776.2"/>
<path d="M254.98 773.8V776.2"/>
<path d="M103.2 773.8V776.2"/>
<path d="M105.1 773.8V776.2"/>
<path d="M107 773.8V776.2"/>
<path d="M108.9 773.8V776.2"/>
<path d="M110.8 773.8V776.2"/>
<path d="M112.7 773.8V776.2"/>
<path d="M114.6 773.8V776.2"/>
<path d="M116.5 773.8V776.2"/>
<path d="M118.4 773.8V776.2"/>
<path d="M120.3 773.8V776.2"/>
<path d="M122.2 773.8V776.2"/>
<path d="M124.1 773.8V776.2"/>
<path d="M126 773.8V776.2"/>
<path d="M127.9 773.8V776.2"/>
<path d="M129.8 773.8V776.2"/>
<path d="M131.7 773.8V776.2"/>
<path d="M116.8 773.8V778" stroke-width="1.3"/>
</g>
<text transform="translate(90.4,774.4) scale(0.8350,1)" font-size="8.2" font-weight="normal" fill="#222">0</text>
<text transform="translate(85.8,727.37) scale(0.9229,1)" font-size="8.2" font-weight="normal" fill="#222">50</text>
<text transform="translate(81,678.03) scale(0.9639,1)" font-size="8.2" font-weight="normal" fill="#222">100</text>
<text transform="translate(81,628.7) scale(0.9639,1)" font-size="8.2" font-weight="normal" fill="#222">150</text>
<text transform="translate(111.3,794) scale(0.8559,1)" font-size="8" font-weight="normal" fill="#222">0</text>
<text transform="translate(131,794) scale(0.8333,1)" font-size="8" font-weight="normal" fill="#222">10</text>
<text transform="translate(139,789) scale(0.8298,1)" font-size="7.6" font-weight="normal" fill="#222">2</text>
<text transform="translate(169.5,794) scale(0.8333,1)" font-size="8" font-weight="normal" fill="#222">10</text>
<text transform="translate(177.5,789) scale(0.8298,1)" font-size="7.6" font-weight="normal" fill="#222">3</text>
<text transform="translate(206.3,794) scale(0.8333,1)" font-size="8" font-weight="normal" fill="#222">10</text>
<text transform="translate(214.3,789) scale(0.8298,1)" font-size="7.6" font-weight="normal" fill="#222">4</text>
<text transform="translate(241.4,794) scale(0.8333,1)" font-size="8" font-weight="normal" fill="#222">10</text>
<text transform="translate(249.4,789) scale(0.8298,1)" font-size="7.6" font-weight="normal" fill="#222">5</text>
<path d="M102.5 773.5C110.42 773.5 133.75 773.52 150 773.5C166.25 773.48 189 773.45 200 773.4C211 773.35 212.5 773.4 216 773.2C219.5 773 219.5 772.85 221 772.2C222.5 771.55 223.83 770.7 225 769.3C226.17 767.9 227.08 766.38 228 763.8C228.92 761.22 229.78 758.13 230.5 753.8C231.22 749.47 231.78 744.47 232.3 737.8C232.82 731.13 233.22 722.8 233.6 713.8C233.98 704.8 234.3 693.47 234.6 683.8C234.9 674.13 235.15 662.97 235.4 655.8C235.65 648.63 235.87 644.23 236.1 640.8C236.33 637.37 236.57 635.2 236.8 635.2C237.03 635.2 237.28 637.37 237.5 640.8C237.72 644.23 237.88 648.97 238.1 655.8C238.32 662.63 238.55 672.47 238.8 681.8C239.05 691.13 239.32 702.47 239.6 711.8C239.88 721.13 240.18 730.3 240.5 737.8C240.82 745.3 241.15 751.97 241.5 756.8C241.85 761.63 242.18 764.3 242.6 766.8C243.02 769.3 243.43 770.72 244 771.8C244.57 772.88 245 773.02 246 773.3C247 773.58 247.58 773.47 250 773.5C252.42 773.53 258.75 773.5 260.5 773.5" fill="none" stroke="#000" stroke-width="1.1" stroke-linejoin="round"/>
<rect x="290.5" y="615.6" width="156.2" height="156.8" fill="none" stroke="#000" stroke-width="0.95"/>
<g stroke="#000" stroke-width="0.85">
<path d="M285.5 772.3H290.5"/>
<path d="M287.9 766.96H290.5"/>
<path d="M287.9 761.62H290.5"/>
<path d="M287.9 756.28H290.5"/>
<path d="M287.9 750.94H290.5"/>
<path d="M285.5 745.6H290.5"/>
<path d="M287.9 740.26H290.5"/>
<path d="M287.9 734.92H290.5"/>
<path d="M287.9 729.58H290.5"/>
<path d="M287.9 724.24H290.5"/>
<path d="M285.5 718.9H290.5"/>
<path d="M287.9 713.56H290.5"/>
<path d="M287.9 708.22H290.5"/>
<path d="M287.9 702.88H290.5"/>
<path d="M287.9 697.54H290.5"/>
<path d="M285.5 692.2H290.5"/>
<path d="M287.9 686.86H290.5"/>
<path d="M287.9 681.52H290.5"/>
<path d="M287.9 676.18H290.5"/>
<path d="M287.9 670.84H290.5"/>
<path d="M285.5 665.5H290.5"/>
<path d="M287.9 660.16H290.5"/>
<path d="M287.9 654.82H290.5"/>
<path d="M287.9 649.48H290.5"/>
<path d="M287.9 644.14H290.5"/>
<path d="M285.5 638.8H290.5"/>
<path d="M287.9 633.46H290.5"/>
<path d="M287.9 628.12H290.5"/>
<path d="M287.9 622.78H290.5"/>
<path d="M287.9 617.44H290.5"/>
<path d="M322.4 772.4V776.8"/>
<path d="M360.4 772.4V776.8"/>
<path d="M396.7 772.4V776.8"/>
<path d="M431.6 772.4V776.8"/>
<path d="M333.84 772.4V774.8"/>
<path d="M340.53 772.4V774.8"/>
<path d="M345.28 772.4V774.8"/>
<path d="M348.96 772.4V774.8"/>
<path d="M351.97 772.4V774.8"/>
<path d="M354.51 772.4V774.8"/>
<path d="M356.72 772.4V774.8"/>
<path d="M358.66 772.4V774.8"/>
<path d="M371.33 772.4V774.8"/>
<path d="M377.72 772.4V774.8"/>
<path d="M382.25 772.4V774.8"/>
<path d="M385.77 772.4V774.8"/>
<path d="M388.65 772.4V774.8"/>
<path d="M391.08 772.4V774.8"/>
<path d="M393.18 772.4V774.8"/>
<path d="M395.04 772.4V774.8"/>
<path d="M407.21 772.4V774.8"/>
<path d="M413.35 772.4V774.8"/>
<path d="M417.71 772.4V774.8"/>
<path d="M421.09 772.4V774.8"/>
<path d="M423.86 772.4V774.8"/>
<path d="M426.19 772.4V774.8"/>
<path d="M428.22 772.4V774.8"/>
<path d="M430 772.4V774.8"/>
<path d="M441.62 772.4V774.8"/>
<path d="M291.7 772.4V774.8"/>
<path d="M293.6 772.4V774.8"/>
<path d="M295.5 772.4V774.8"/>
<path d="M297.4 772.4V774.8"/>
<path d="M299.3 772.4V774.8"/>
<path d="M301.2 772.4V774.8"/>
<path d="M303.1 772.4V774.8"/>
<path d="M305 772.4V774.8"/>
<path d="M306.9 772.4V774.8"/>
<path d="M308.8 772.4V774.8"/>
<path d="M310.7 772.4V774.8"/>
<path d="M312.6 772.4V774.8"/>
<path d="M314.5 772.4V774.8"/>
<path d="M316.4 772.4V774.8"/>
<path d="M318.3 772.4V774.8"/>
<path d="M320.2 772.4V774.8"/>
<path d="M305.5 772.4V776.6" stroke-width="1.3"/>
</g>
<text transform="translate(279.8,772.9) scale(0.8350,1)" font-size="8.2" font-weight="normal" fill="#222">0</text>
<text transform="translate(275.2,748.5) scale(0.9229,1)" font-size="8.2" font-weight="normal" fill="#222">50</text>
<text transform="translate(270.4,721.8) scale(0.9639,1)" font-size="8.2" font-weight="normal" fill="#222">100</text>
<text transform="translate(270.4,695.1) scale(0.9639,1)" font-size="8.2" font-weight="normal" fill="#222">150</text>
<text transform="translate(270.4,668.4) scale(0.9639,1)" font-size="8.2" font-weight="normal" fill="#222">200</text>
<text transform="translate(270.4,641.7) scale(0.9639,1)" font-size="8.2" font-weight="normal" fill="#222">250</text>
<text transform="translate(300,792.6) scale(0.8559,1)" font-size="8" font-weight="normal" fill="#222">0</text>
<text transform="translate(318.9,792.6) scale(0.8333,1)" font-size="8" font-weight="normal" fill="#222">10</text>
<text transform="translate(326.9,787.6) scale(0.8298,1)" font-size="7.6" font-weight="normal" fill="#222">2</text>
<text transform="translate(356.9,792.6) scale(0.8333,1)" font-size="8" font-weight="normal" fill="#222">10</text>
<text transform="translate(364.9,787.6) scale(0.8298,1)" font-size="7.6" font-weight="normal" fill="#222">3</text>
<text transform="translate(393.2,792.6) scale(0.8333,1)" font-size="8" font-weight="normal" fill="#222">10</text>
<text transform="translate(401.2,787.6) scale(0.8298,1)" font-size="7.6" font-weight="normal" fill="#222">4</text>
<text transform="translate(428.1,792.6) scale(0.8333,1)" font-size="8" font-weight="normal" fill="#222">10</text>
<text transform="translate(436.1,787.6) scale(0.8298,1)" font-size="7.6" font-weight="normal" fill="#222">5</text>
<path d="M291 772.1C294.17 772.1 305.08 772.12 310 772.1C314.92 772.08 318.42 772.2 320.5 772C322.58 771.8 321.75 771.67 322.5 770.9C323.25 770.13 324.08 768.57 325 767.4C325.92 766.23 327.12 764.78 328 763.9C328.88 763.02 329.55 762.52 330.3 762.1C331.05 761.68 331.85 761.85 332.5 761.4C333.15 760.95 333.62 760.9 334.2 759.4C334.78 757.9 335.37 755.23 336 752.4C336.63 749.57 337.4 745.07 338 742.4C338.6 739.73 339.12 737.73 339.6 736.4C340.08 735.07 340.45 734.48 340.9 734.4C341.35 734.32 341.85 735.07 342.3 735.9C342.75 736.73 343.22 738.57 343.6 739.4C343.98 740.23 344.27 741.23 344.6 740.9C344.93 740.57 345.2 741.32 345.6 737.4C346 733.48 346.53 724.9 347 717.4C347.47 709.9 347.97 699.07 348.4 692.4C348.83 685.73 349.23 680.7 349.6 677.4C349.97 674.1 350.27 672.77 350.6 672.6C350.93 672.43 351.23 673.43 351.6 676.4C351.97 679.37 352.37 684.73 352.8 690.4C353.23 696.07 353.78 705.32 354.2 710.4C354.62 715.48 354.98 718.82 355.3 720.9C355.62 722.98 355.82 723.48 356.1 722.9C356.38 722.32 356.63 723.32 357 717.4C357.37 711.48 357.87 698.23 358.3 687.4C358.73 676.57 359.23 661.07 359.6 652.4C359.97 643.73 360.23 639 360.5 635.4C360.77 631.8 360.95 630.8 361.2 630.8C361.45 630.8 361.7 631.47 362 635.4C362.3 639.33 362.6 645.23 363 654.4C363.4 663.57 363.97 679.9 364.4 690.4C364.83 700.9 365.23 711.68 365.6 717.4C365.97 723.12 366.27 724.7 366.6 724.7C366.93 724.7 367.23 723.62 367.6 717.4C367.97 711.18 368.4 697.9 368.8 687.4C369.2 676.9 369.67 661.9 370 654.4C370.33 646.9 370.57 644.98 370.8 642.4C371.03 639.82 371.17 638.57 371.4 638.9C371.63 639.23 371.88 639.65 372.2 644.4C372.52 649.15 372.87 656.9 373.3 667.4C373.73 677.9 374.35 696.57 374.8 707.4C375.25 718.23 375.63 726.95 376 732.4C376.37 737.85 376.67 739.43 377 740.1C377.33 740.77 377.63 739.68 378 736.4C378.37 733.12 378.82 726.07 379.2 720.4C379.58 714.73 379.95 706.68 380.3 702.4C380.65 698.12 380.97 695.2 381.3 694.7C381.63 694.2 381.93 695.62 382.3 699.4C382.67 703.18 383.05 710.23 383.5 717.4C383.95 724.57 384.53 736.07 385 742.4C385.47 748.73 385.92 752.78 386.3 755.4C386.68 758.02 386.95 758.1 387.3 758.1C387.65 758.1 388 757.18 388.4 755.4C388.8 753.62 389.23 749.73 389.7 747.4C390.17 745.07 390.73 741.73 391.2 741.4C391.67 741.07 392.03 742.73 392.5 745.4C392.97 748.07 393.5 754.15 394 757.4C394.5 760.65 394.95 763.27 395.5 764.9C396.05 766.53 396.63 767.12 397.3 767.2C397.97 767.28 398.78 765.97 399.5 765.4C400.22 764.83 400.92 763.63 401.6 763.8C402.28 763.97 402.93 765.4 403.6 766.4C404.27 767.4 404.9 769.1 405.6 769.8C406.3 770.5 407.02 770.6 407.8 770.6C408.58 770.6 409.5 770 410.3 769.8C411.1 769.6 411.77 769.23 412.6 769.4C413.43 769.57 414.35 770.5 415.3 770.8C416.25 771.1 417.23 771.22 418.3 771.2C419.37 771.18 420.58 770.65 421.7 770.7C422.82 770.75 423.78 771.27 425 771.5C426.22 771.73 425.5 772 429 772.1C432.5 772.2 443.17 772.1 446 772.1" fill="none" stroke="#000" stroke-width="1.1" stroke-linejoin="round"/>
</svg>
</body></html>
